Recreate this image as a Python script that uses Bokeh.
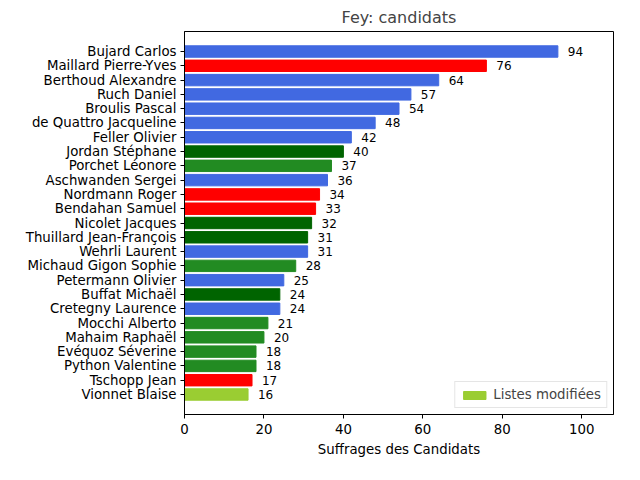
from bokeh.plotting import figure
from bokeh.models import ColumnDataSource, FactorRange, Range1d, Legend, LegendItem
from bokeh.core.properties import value
from bokeh.embed import file_html
from bokeh.resources import INLINE

names = ["Bujard Carlos", "Maillard Pierre-Yves", "Berthoud Alexandre", "Ruch Daniel",
         "Broulis Pascal", "de Quattro Jacqueline", "Feller Olivier", "Jordan Stéphane",
         "Porchet Léonore", "Aschwanden Sergei", "Nordmann Roger", "Bendahan Samuel",
         "Nicolet Jacques", "Thuillard Jean-François", "Wehrli Laurent",
         "Michaud Gigon Sophie", "Petermann Olivier", "Buffat Michaël",
         "Cretegny Laurence", "Mocchi Alberto", "Mahaim Raphaël", "Evéquoz Séverine",
         "Python Valentine", "Tschopp Jean", "Vionnet Blaise"]
votes = [94, 76, 64, 57, 54, 48, 42, 40, 37, 36, 34, 33, 32, 31, 31, 28, 25, 24, 24,
         21, 20, 18, 18, 17, 16]
B, R, DG, FG, YG = "royalblue", "red", "#006400", "#228B22", "#9ACD32"
colors = [B, R, B, B, B, B, B, DG, FG, B, R, R, DG, DG, B, FG, B, DG, B, FG, FG, FG,
          FG, R, YG]

FONT = "DejaVu Sans"
src = ColumnDataSource(dict(name=names, v=votes, c=colors,
                            lx=[v + 2.5 for v in votes], lab=[str(v) for v in votes]))

p = figure(y_range=FactorRange(*reversed(names), range_padding=0.072),
           x_range=Range1d(0, 108), width=624, height=464,
           frame_width=429, frame_height=383,
           output_backend="svg", toolbar_location=None, title="Fey: candidats",
           min_border_left=184, min_border_right=11, min_border_top=30,
           min_border_bottom=51)
p.hbar(y="name", right="v", height=0.8, color="c", source=src)
p.text(x="lx", y="name", text="lab", source=src, text_font_size="9pt",
       text_baseline="middle", text_color="black", text_font=value(FONT))

leg_r = p.hbar(y=[names[-1]], right=[0], height=0, color=YG)
leg = Legend(items=[LegendItem(label="Listes modifiées", renderers=[leg_r])],
             location="bottom_right", label_text_font_size="10pt",
             label_text_font=FONT, border_line_color="#cccccc",
             glyph_height=10, glyph_width=28, padding=5, spacing=0, margin=6)
p.add_layout(leg)

p.title.align = "center"
p.title.text_font_size = "12pt"
p.title.text_font_style = "normal"
p.title.text_font = FONT
p.xaxis.axis_label = "Suffrages des Candidats"
p.xaxis.axis_label_text_font_style = "normal"
p.xaxis.axis_label_text_font_size = "10pt"
p.xaxis.axis_label_text_font = FONT
p.xaxis.axis_label_text_color = "black"
p.xaxis.ticker = [0, 20, 40, 60, 80, 100]
p.axis.major_label_text_font_size = "10pt"
p.axis.major_label_text_font = FONT
p.axis.major_label_text_color = "black"
p.axis.minor_tick_line_color = None
p.axis.major_tick_out = 4
p.axis.major_tick_in = 0
p.yaxis.major_label_standoff = 4
p.grid.grid_line_color = None
p.outline_line_color = "black"
p.background_fill_color = "white"

open("out.html", "w").write(file_html(p, INLINE))
